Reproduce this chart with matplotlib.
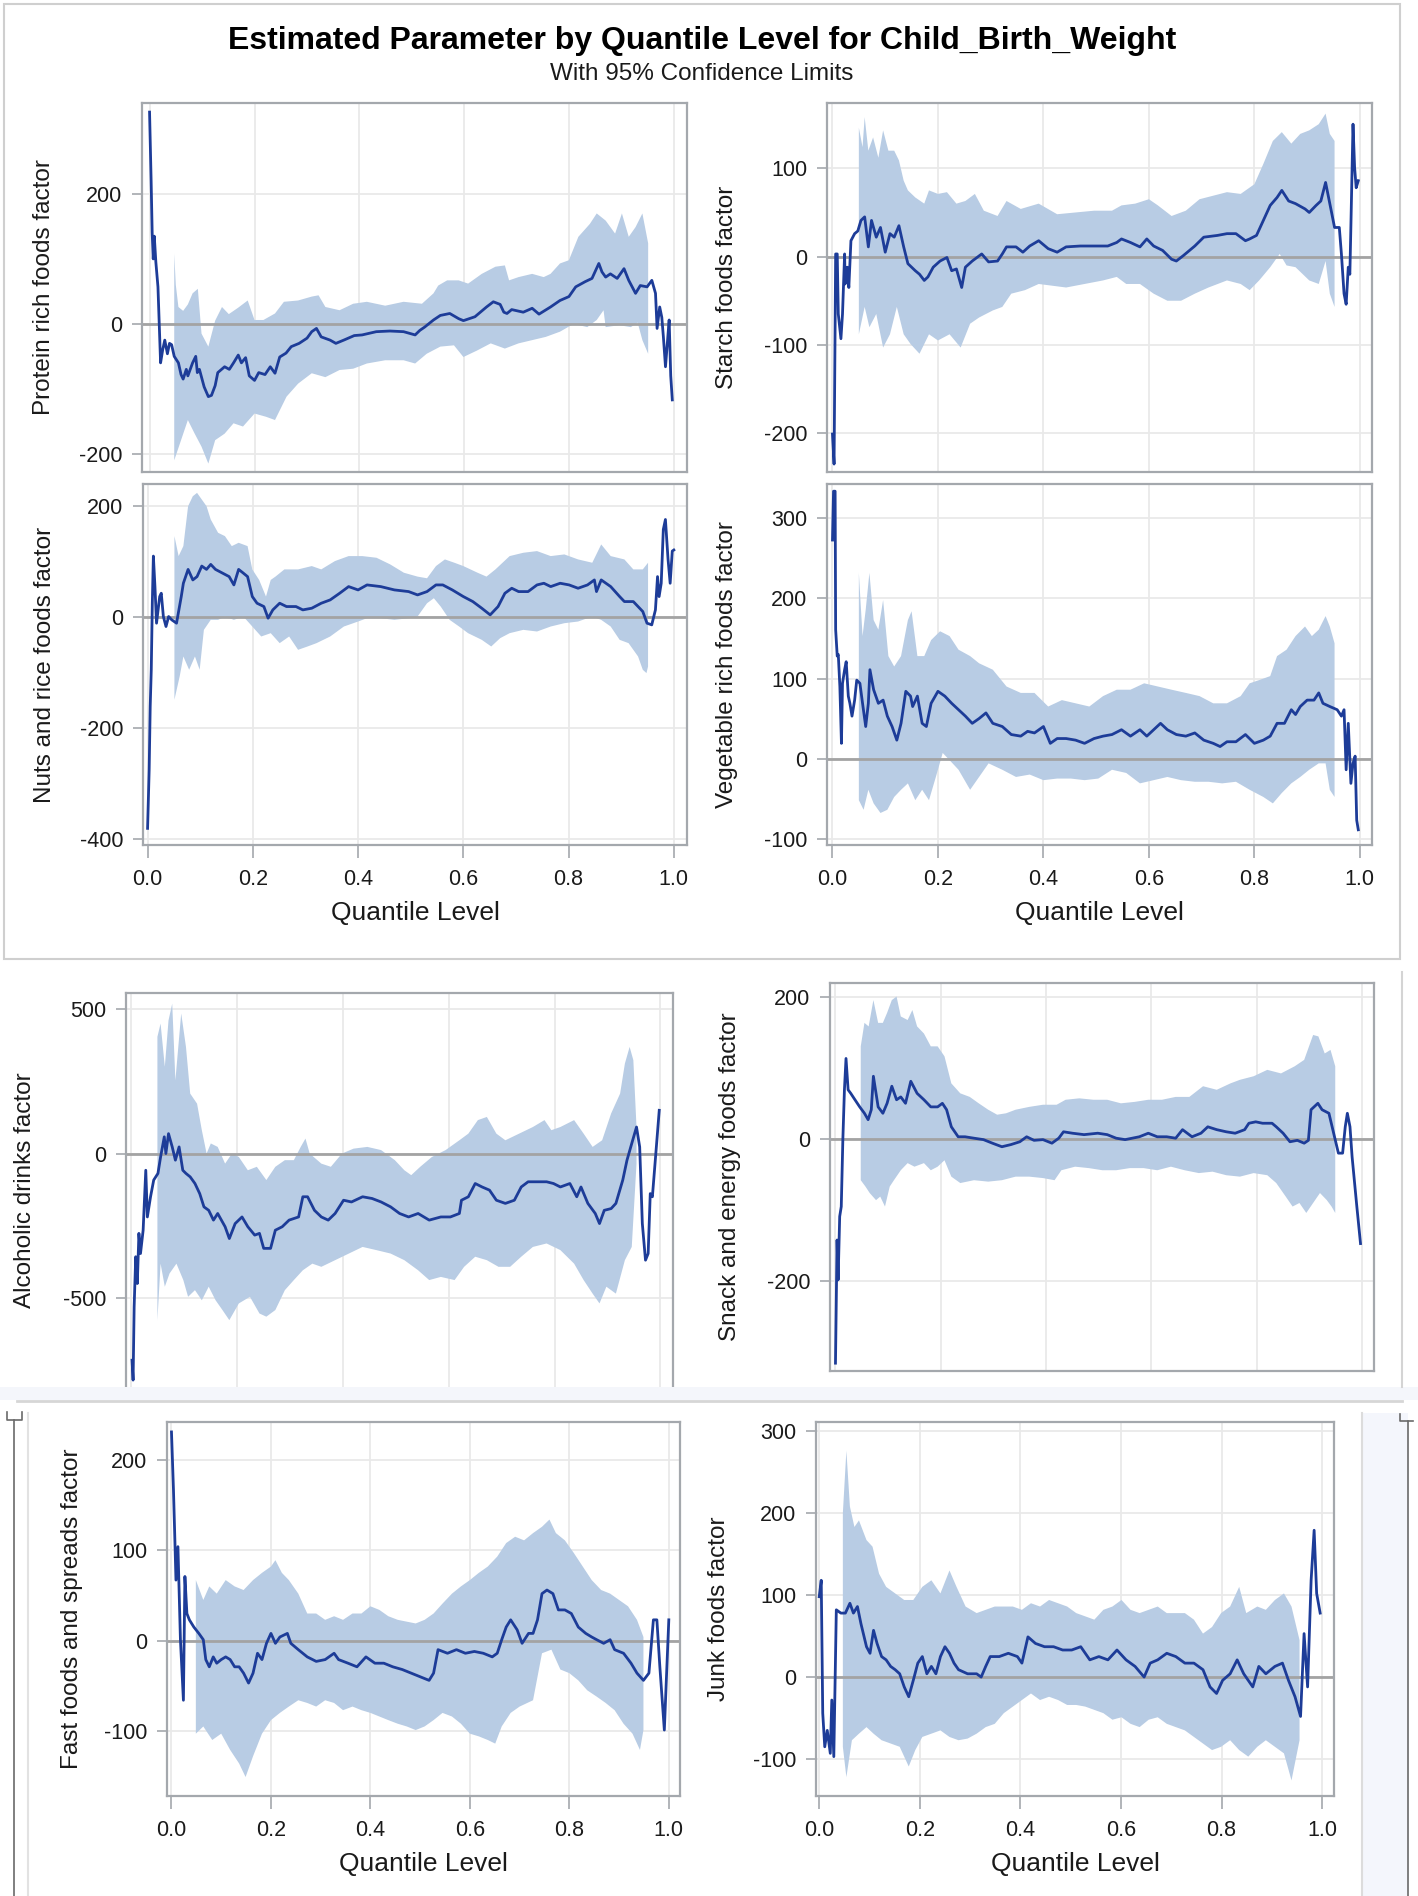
"""Quantile regression process plots for Child_Birth_Weight (three stacked screenshots)."""

import matplotlib
matplotlib.use("Agg")
import matplotlib.pyplot as plt
from matplotlib.lines import Line2D
from matplotlib.patches import Rectangle

plt.rcParams["font.family"] = ["Liberation Sans", "DejaVu Sans"]
plt.rcParams["axes.unicode_minus"] = False

# ---------------- data: (quantile level, value) ----------------
PROTEIN_EST = [(0.000, 326), (0.003, 220), (0.005, 140), (0.007, 100), (0.009, 135), (0.012, 95), (0.016, 57),
               (0.021, -60), (0.025, -40), (0.029, -25), (0.034, -46), (0.038, -30), (0.042, -32), (0.047, -50),
               (0.055, -60), (0.060, -78), (0.064, -85), (0.070, -70), (0.073, -80), (0.082, -60), (0.088, -50),
               (0.091, -75), (0.095, -70), (0.104, -97), (0.112, -112), (0.118, -110), (0.125, -95), (0.130, -75),
               (0.143, -66), (0.152, -70), (0.160, -60), (0.169, -48), (0.175, -60), (0.183, -52), (0.190, -80),
               (0.200, -87), (0.208, -75), (0.220, -78), (0.230, -66), (0.239, -76), (0.248, -51), (0.260, -45),
               (0.270, -35), (0.285, -30), (0.300, -22), (0.309, -12), (0.318, -7), (0.327, -20), (0.344, -25),
               (0.355, -30), (0.370, -25), (0.390, -18), (0.405, -17), (0.432, -12), (0.458, -11), (0.484, -12),
               (0.506, -17), (0.515, -10), (0.524, -5), (0.541, 6), (0.554, 13), (0.572, 16), (0.589, 8),
               (0.598, 5), (0.620, 11), (0.642, 26), (0.655, 34), (0.668, 30), (0.675, 18), (0.681, 16),
               (0.690, 22), (0.712, 18), (0.729, 24), (0.742, 15), (0.764, 26), (0.782, 36), (0.799, 42),
               (0.812, 57), (0.830, 65), (0.843, 70), (0.856, 93), (0.862, 80), (0.869, 72), (0.878, 77),
               (0.891, 70), (0.904, 85), (0.913, 67), (0.926, 47), (0.935, 59), (0.948, 57), (0.957, 67),
               (0.964, 47), (0.967, -7), (0.972, 26), (0.976, 10), (0.979, -20), (0.983, -66), (0.987, -25),
               (0.990, 6), (0.993, -80), (0.996, -117)]
PROTEIN_UP = [(0.047, 108), (0.050, 60), (0.055, 26), (0.064, 20), (0.073, 30), (0.082, 47), (0.092, 54),
              (0.099, -15), (0.112, -35), (0.125, 5), (0.138, 26), (0.151, 15), (0.169, 25), (0.187, 36),
              (0.200, 6), (0.217, 6), (0.239, 16), (0.256, 34), (0.283, 36), (0.309, 42), (0.322, 44),
              (0.335, 26), (0.362, 21), (0.388, 31), (0.414, 34), (0.449, 28), (0.484, 34), (0.519, 31),
              (0.541, 47), (0.550, 59), (0.567, 67), (0.589, 67), (0.607, 62), (0.633, 77), (0.659, 88),
              (0.677, 90), (0.685, 67), (0.703, 72), (0.729, 77), (0.751, 72), (0.764, 77), (0.782, 93),
              (0.799, 98), (0.817, 134), (0.839, 154), (0.852, 170), (0.869, 159), (0.887, 139), (0.900, 170),
              (0.913, 134), (0.926, 149), (0.939, 170), (0.950, 124)]
PROTEIN_LO = [(0.047, -210), (0.060, -179), (0.073, -148), (0.086, -169), (0.099, -189), (0.112, -215),
              (0.125, -179), (0.143, -169), (0.160, -153), (0.178, -158), (0.200, -138), (0.222, -143),
              (0.239, -148), (0.261, -112), (0.283, -92), (0.309, -76), (0.335, -82), (0.362, -71), (0.388, -69),
              (0.414, -61), (0.449, -56), (0.484, -56), (0.506, -61), (0.528, -46), (0.554, -35), (0.580, -33),
              (0.598, -51), (0.624, -41), (0.650, -30), (0.677, -38), (0.703, -30), (0.729, -25), (0.755, -20),
              (0.782, -12), (0.808, 0), (0.834, -5), (0.852, 6), (0.865, 21), (0.869, -5), (0.895, -2),
              (0.917, -5), (0.930, 2), (0.939, -25), (0.950, -46)]

STARCH_EST = [(0.000, -201), (0.003, -235), (0.006, 3), (0.009, 3), (0.011, -65), (0.016, -93), (0.019, -65),
              (0.023, 3), (0.024, -31), (0.028, -12), (0.031, -35), (0.035, 18), (0.042, 26), (0.048, 29),
              (0.054, 41), (0.061, 45), (0.068, 11), (0.074, 41), (0.083, 22), (0.091, 33), (0.100, 5),
              (0.109, 26), (0.117, 22), (0.126, 35), (0.135, 11), (0.143, -8), (0.157, -16), (0.165, -20),
              (0.174, -27), (0.181, -23), (0.191, -12), (0.204, -5), (0.217, -1), (0.226, -16), (0.235, -14),
              (0.245, -35), (0.252, -12), (0.265, -5), (0.283, 3), (0.296, -6), (0.313, -5), (0.322, 3),
              (0.330, 11), (0.348, 11), (0.361, 5), (0.374, 12), (0.391, 18), (0.409, 9), (0.426, 5),
              (0.443, 11), (0.470, 12), (0.496, 12), (0.522, 12), (0.539, 16), (0.548, 20), (0.565, 16),
              (0.583, 11), (0.596, 20), (0.609, 12), (0.626, 7), (0.643, -3), (0.652, -5), (0.665, 1),
              (0.687, 12), (0.704, 22), (0.730, 24), (0.748, 26), (0.765, 26), (0.783, 18), (0.791, 20),
              (0.804, 24), (0.817, 41), (0.830, 58), (0.843, 67), (0.852, 75), (0.865, 63), (0.878, 60),
              (0.896, 54), (0.904, 50), (0.917, 58), (0.926, 63), (0.935, 84), (0.943, 60), (0.952, 33),
              (0.961, 33), (0.965, 3), (0.970, -42), (0.974, -54), (0.978, -12), (0.981, -20), (0.983, 35),
              (0.987, 150), (0.990, 101), (0.993, 78), (0.997, 86)]
STARCH_UP = [(0.050, 146), (0.057, 124), (0.061, 158), (0.068, 120), (0.077, 135), (0.087, 112), (0.096, 143),
             (0.106, 120), (0.117, 120), (0.126, 109), (0.135, 86), (0.143, 75), (0.157, 67), (0.174, 60),
             (0.183, 75), (0.200, 71), (0.217, 73), (0.235, 60), (0.252, 63), (0.270, 71), (0.287, 52),
             (0.313, 46), (0.330, 63), (0.357, 54), (0.391, 60), (0.426, 48), (0.461, 50), (0.496, 52),
             (0.530, 52), (0.548, 58), (0.574, 60), (0.600, 65), (0.617, 58), (0.643, 46), (0.670, 52),
             (0.696, 65), (0.722, 69), (0.748, 73), (0.774, 71), (0.800, 82), (0.817, 105), (0.835, 131),
             (0.852, 141), (0.870, 128), (0.887, 139), (0.904, 143), (0.922, 150), (0.935, 162), (0.943, 139),
             (0.952, 131)]
STARCH_LO = [(0.050, -88), (0.061, -57), (0.070, -80), (0.083, -65), (0.096, -103), (0.109, -88), (0.122, -57),
             (0.135, -88), (0.148, -99), (0.165, -110), (0.183, -88), (0.200, -95), (0.222, -88), (0.243, -103),
             (0.261, -76), (0.278, -69), (0.304, -61), (0.322, -57), (0.339, -42), (0.365, -38), (0.391, -31),
             (0.417, -33), (0.443, -35), (0.478, -31), (0.513, -27), (0.539, -23), (0.557, -31), (0.583, -31),
             (0.609, -42), (0.635, -50), (0.661, -50), (0.687, -42), (0.713, -35), (0.748, -27), (0.774, -31),
             (0.791, -38), (0.809, -27), (0.830, -12), (0.848, 3), (0.861, -10), (0.878, -12), (0.904, -27),
             (0.922, -31), (0.935, -5), (0.943, -42), (0.952, -57)]

NUTS_EST = [(0.000, -381), (0.003, -276), (0.005, -161), (0.007, -95), (0.009, 25), (0.011, 110), (0.014, 55),
            (0.017, -11), (0.023, 37), (0.026, 43), (0.030, 1), (0.035, -17), (0.040, 1), (0.046, -5),
            (0.055, -11), (0.064, 37), (0.068, 61), (0.077, 86), (0.086, 67), (0.094, 73), (0.103, 92),
            (0.112, 86), (0.120, 95), (0.129, 86), (0.147, 77), (0.155, 73), (0.164, 58), (0.173, 86),
            (0.181, 80), (0.190, 73), (0.199, 37), (0.208, 25), (0.221, 19), (0.229, -2), (0.238, 13),
            (0.251, 25), (0.264, 19), (0.282, 19), (0.295, 13), (0.312, 16), (0.330, 25), (0.347, 31),
            (0.365, 43), (0.382, 55), (0.400, 49), (0.417, 58), (0.443, 55), (0.469, 49), (0.496, 46),
            (0.513, 40), (0.531, 46), (0.548, 58), (0.561, 58), (0.579, 49), (0.600, 37), (0.618, 28),
            (0.635, 16), (0.651, 4), (0.666, 19), (0.679, 43), (0.692, 52), (0.705, 46), (0.723, 46),
            (0.740, 58), (0.753, 61), (0.766, 55), (0.784, 61), (0.801, 58), (0.818, 52), (0.836, 58),
            (0.849, 67), (0.853, 46), (0.862, 67), (0.880, 55), (0.897, 37), (0.906, 28), (0.923, 28),
            (0.941, 10), (0.949, -11), (0.958, -14), (0.965, 13), (0.969, 73), (0.972, 37), (0.976, 61),
            (0.980, 158), (0.984, 176), (0.989, 104), (0.993, 61), (0.997, 119), (1.000, 121)]
NUTS_UP = [(0.051, 146), (0.059, 110), (0.068, 128), (0.077, 200), (0.086, 218), (0.094, 224), (0.103, 212),
           (0.112, 200), (0.120, 176), (0.134, 152), (0.147, 146), (0.160, 128), (0.173, 134), (0.190, 128),
           (0.199, 86), (0.212, 67), (0.225, 37), (0.234, 67), (0.243, 73), (0.260, 86), (0.286, 86),
           (0.312, 92), (0.330, 86), (0.356, 101), (0.382, 110), (0.408, 110), (0.435, 107), (0.461, 95),
           (0.487, 80), (0.513, 73), (0.531, 70), (0.548, 92), (0.565, 104), (0.583, 98), (0.600, 92),
           (0.627, 80), (0.644, 73), (0.661, 86), (0.688, 110), (0.714, 116), (0.740, 119), (0.766, 110),
           (0.792, 113), (0.818, 104), (0.845, 98), (0.862, 131), (0.880, 110), (0.906, 104), (0.923, 86),
           (0.941, 86), (0.951, 98)]
NUTS_LO = [(0.051, -149), (0.061, -107), (0.068, -71), (0.079, -95), (0.090, -71), (0.099, -95), (0.107, -23),
           (0.120, -5), (0.134, -5), (0.147, 1), (0.164, -5), (0.182, 1), (0.199, -17), (0.216, -35),
           (0.234, -29), (0.251, -47), (0.269, -35), (0.286, -59), (0.304, -53), (0.321, -47), (0.347, -35),
           (0.373, -17), (0.400, -8), (0.417, -2), (0.443, -2), (0.469, -5), (0.496, -2), (0.513, 1),
           (0.531, 25), (0.544, 34), (0.557, 19), (0.574, -5), (0.592, -17), (0.609, -29), (0.635, -41),
           (0.653, -53), (0.670, -38), (0.688, -29), (0.714, -23), (0.740, -26), (0.766, -17), (0.792, -11),
           (0.818, -8), (0.845, 1), (0.862, -5), (0.880, -17), (0.897, -41), (0.914, -47), (0.932, -71),
           (0.941, -95), (0.948, -101), (0.951, -89)]

VEG_EST = [(0.000, 273), (0.002, 334), (0.005, 334), (0.006, 161), (0.009, 128), (0.011, 130), (0.014, 90),
           (0.017, 19), (0.019, 94), (0.023, 111), (0.026, 121), (0.030, 78), (0.033, 69), (0.037, 53),
           (0.042, 73), (0.046, 98), (0.052, 94), (0.057, 69), (0.063, 40), (0.068, 69), (0.071, 111),
           (0.078, 86), (0.087, 69), (0.096, 73), (0.104, 53), (0.113, 40), (0.122, 23), (0.130, 44),
           (0.139, 84), (0.148, 78), (0.152, 65), (0.161, 78), (0.170, 44), (0.178, 40), (0.187, 69),
           (0.200, 84), (0.213, 78), (0.226, 69), (0.239, 61), (0.252, 53), (0.265, 44), (0.278, 50),
           (0.291, 57), (0.304, 44), (0.322, 40), (0.339, 30), (0.357, 28), (0.370, 34), (0.383, 32),
           (0.400, 40), (0.413, 19), (0.426, 25), (0.443, 25), (0.461, 23), (0.478, 19), (0.496, 25),
           (0.513, 28), (0.530, 30), (0.548, 36), (0.565, 28), (0.583, 36), (0.596, 28), (0.609, 36),
           (0.622, 44), (0.635, 36), (0.652, 30), (0.670, 28), (0.687, 32), (0.704, 23), (0.722, 19),
           (0.735, 15), (0.748, 21), (0.765, 21), (0.783, 30), (0.800, 19), (0.817, 23), (0.830, 28),
           (0.843, 44), (0.857, 44), (0.870, 61), (0.878, 55), (0.887, 65), (0.900, 73), (0.913, 73),
           (0.922, 82), (0.930, 69), (0.943, 65), (0.957, 61), (0.965, 53), (0.970, 61), (0.974, -14),
           (0.978, 44), (0.983, -31), (0.987, -6), (0.991, 3), (0.994, -77), (0.997, -89)]
VEG_UP = [(0.050, 232), (0.057, 153), (0.063, 186), (0.070, 232), (0.078, 173), (0.087, 161), (0.096, 198),
          (0.106, 128), (0.117, 115), (0.130, 128), (0.143, 173), (0.150, 184), (0.161, 128), (0.174, 128),
          (0.187, 148), (0.204, 159), (0.222, 153), (0.239, 136), (0.261, 128), (0.278, 119), (0.304, 111),
          (0.330, 90), (0.357, 82), (0.383, 82), (0.409, 65), (0.435, 73), (0.461, 69), (0.487, 65),
          (0.513, 78), (0.539, 86), (0.565, 86), (0.591, 94), (0.617, 90), (0.643, 86), (0.670, 82),
          (0.696, 78), (0.722, 69), (0.748, 69), (0.774, 78), (0.791, 94), (0.809, 98), (0.830, 103),
          (0.843, 128), (0.861, 136), (0.878, 153), (0.896, 165), (0.909, 153), (0.922, 161), (0.935, 178),
          (0.943, 165), (0.952, 144)]
VEG_LO = [(0.050, -52), (0.059, -64), (0.068, -39), (0.078, -56), (0.091, -68), (0.104, -64), (0.117, -48),
          (0.130, -39), (0.143, -31), (0.157, -52), (0.170, -39), (0.183, -52), (0.196, -23), (0.209, 7),
          (0.222, -2), (0.239, -14), (0.261, -39), (0.278, -23), (0.296, -6), (0.322, -14), (0.348, -23),
          (0.374, -20), (0.400, -27), (0.426, -25), (0.452, -25), (0.478, -27), (0.504, -25), (0.530, -14),
          (0.557, -18), (0.583, -31), (0.609, -27), (0.635, -23), (0.661, -27), (0.687, -29), (0.713, -29),
          (0.739, -31), (0.765, -29), (0.791, -39), (0.817, -48), (0.835, -56), (0.852, -43), (0.870, -31),
          (0.887, -23), (0.904, -14), (0.922, -6), (0.935, -6), (0.943, -39), (0.952, -48)]

ALCOHOL_EST = [(0.001, -717), (0.003, -786), (0.005, -532), (0.008, -358), (0.011, -451), (0.014, -277),
               (0.017, -347), (0.022, -266), (0.027, -58), (0.030, -220), (0.036, -150), (0.042, -92),
               (0.050, -69), (0.055, -12), (0.062, 58), (0.065, 0), (0.070, 69), (0.077, 23), (0.083, -23),
               (0.090, 23), (0.097, -58), (0.103, -69), (0.111, -81), (0.120, -104), (0.129, -139),
               (0.137, -185), (0.146, -197), (0.155, -231), (0.163, -208), (0.177, -254), (0.185, -295),
               (0.196, -243), (0.209, -220), (0.220, -254), (0.233, -283), (0.242, -277), (0.250, -329),
               (0.263, -329), (0.272, -266), (0.285, -254), (0.298, -231), (0.316, -220), (0.324, -150),
               (0.333, -150), (0.346, -197), (0.359, -220), (0.372, -231), (0.385, -208), (0.401, -162),
               (0.416, -168), (0.437, -150), (0.455, -156), (0.472, -168), (0.490, -185), (0.507, -208),
               (0.524, -220), (0.542, -208), (0.563, -231), (0.585, -220), (0.603, -220), (0.620, -208),
               (0.624, -162), (0.637, -150), (0.650, -104), (0.663, -116), (0.677, -127), (0.690, -162),
               (0.707, -173), (0.724, -162), (0.737, -116), (0.750, -98), (0.768, -98), (0.785, -98),
               (0.798, -104), (0.811, -116), (0.829, -104), (0.842, -150), (0.850, -116), (0.863, -173),
               (0.877, -208), (0.885, -243), (0.894, -197), (0.907, -191), (0.916, -173), (0.929, -92),
               (0.937, -23), (0.946, 35), (0.955, 92), (0.961, 23), (0.966, -243), (0.972, -370),
               (0.977, -347), (0.981, -139), (0.985, -150), (0.990, -35), (0.998, 150)]
ALCOHOL_UP = [(0.049, 405), (0.055, 451), (0.063, 301), (0.070, 462), (0.077, 520), (0.083, 254), (0.094, 486),
              (0.103, 370), (0.111, 208), (0.124, 173), (0.133, 81), (0.142, 0), (0.150, 35), (0.163, 23),
              (0.177, -35), (0.190, 0), (0.203, -12), (0.220, -58), (0.237, -46), (0.255, -92), (0.272, -46),
              (0.290, -23), (0.307, -23), (0.320, 23), (0.329, 52), (0.337, 0), (0.359, -35), (0.377, -46),
              (0.398, 0), (0.420, 17), (0.446, 23), (0.472, 12), (0.498, -23), (0.516, -58), (0.529, -75),
              (0.546, -46), (0.568, -12), (0.594, 12), (0.620, 46), (0.637, 69), (0.655, 116), (0.672, 127),
              (0.690, 69), (0.707, 46), (0.733, 69), (0.759, 92), (0.781, 116), (0.794, 81), (0.811, 92),
              (0.837, 116), (0.855, 69), (0.872, 23), (0.890, 46), (0.907, 139), (0.924, 208), (0.933, 312),
              (0.942, 370), (0.949, 324), (0.955, 92)]
ALCOHOL_LO = [(0.049, -578), (0.055, -382), (0.063, -462), (0.072, -416), (0.085, -382), (0.098, -439),
              (0.107, -497), (0.120, -474), (0.133, -509), (0.146, -462), (0.159, -509), (0.172, -543),
              (0.185, -578), (0.203, -520), (0.224, -497), (0.242, -555), (0.255, -566), (0.272, -543),
              (0.290, -474), (0.307, -439), (0.324, -405), (0.342, -382), (0.359, -393), (0.385, -370),
              (0.411, -347), (0.437, -324), (0.463, -335), (0.490, -347), (0.516, -370), (0.542, -405),
              (0.563, -439), (0.585, -428), (0.611, -439), (0.629, -393), (0.650, -358), (0.672, -370),
              (0.694, -393), (0.716, -393), (0.737, -358), (0.759, -324), (0.785, -312), (0.811, -335),
              (0.837, -382), (0.855, -439), (0.872, -486), (0.885, -520), (0.898, -462), (0.916, -486),
              (0.933, -370), (0.946, -324), (0.955, -35)]

SNACK_EST = [(0.000, -315), (0.003, -142), (0.005, -198), (0.008, -109), (0.011, -95), (0.014, -1), (0.017, 69),
             (0.020, 113), (0.024, 69), (0.029, 64), (0.037, 55), (0.046, 45), (0.055, 36), (0.062, 27),
             (0.068, 41), (0.072, 88), (0.081, 45), (0.090, 36), (0.098, 50), (0.107, 74), (0.116, 55),
             (0.124, 59), (0.133, 50), (0.143, 81), (0.155, 64), (0.168, 55), (0.181, 45), (0.194, 45),
             (0.203, 50), (0.211, 41), (0.220, 17), (0.233, 3), (0.246, 3), (0.263, 1), (0.281, -1),
             (0.298, -6), (0.316, -11), (0.333, -8), (0.350, -4), (0.363, 3), (0.377, -2), (0.394, -1),
             (0.411, -6), (0.424, 1), (0.433, 10), (0.450, 8), (0.472, 6), (0.498, 8), (0.516, 6), (0.533, 1),
             (0.550, -1), (0.577, 3), (0.594, 8), (0.611, 3), (0.629, 3), (0.646, 1), (0.659, 13), (0.677, 3),
             (0.694, 8), (0.707, 17), (0.724, 13), (0.742, 10), (0.759, 8), (0.777, 13), (0.785, 22),
             (0.798, 24), (0.811, 22), (0.829, 22), (0.837, 17), (0.850, 8), (0.863, -4), (0.877, -2),
             (0.890, -6), (0.898, -2), (0.903, 41), (0.916, 50), (0.924, 41), (0.937, 36), (0.946, 8),
             (0.955, -20), (0.963, -20), (0.968, 17), (0.972, 36), (0.977, 17), (0.981, -25), (0.990, -95),
             (0.997, -147)]
SNACK_UP = [(0.048, 130), (0.055, 163), (0.063, 158), (0.072, 195), (0.081, 163), (0.090, 163), (0.098, 177),
            (0.107, 195), (0.116, 200), (0.124, 172), (0.137, 167), (0.146, 181), (0.155, 158), (0.168, 148),
            (0.181, 130), (0.194, 130), (0.207, 116), (0.220, 78), (0.237, 64), (0.255, 59), (0.272, 50),
            (0.290, 41), (0.307, 34), (0.324, 36), (0.342, 41), (0.368, 45), (0.394, 48), (0.420, 48),
            (0.437, 55), (0.463, 57), (0.490, 55), (0.516, 55), (0.542, 50), (0.568, 52), (0.594, 55),
            (0.620, 55), (0.646, 59), (0.672, 59), (0.698, 74), (0.724, 69), (0.750, 78), (0.768, 83),
            (0.794, 88), (0.820, 97), (0.846, 92), (0.872, 102), (0.890, 111), (0.907, 146), (0.917, 144),
            (0.929, 120), (0.940, 125), (0.949, 102)]
SNACK_LO = [(0.048, -58), (0.057, -67), (0.065, -76), (0.077, -86), (0.085, -81), (0.094, -95), (0.103, -67),
            (0.111, -58), (0.124, -44), (0.137, -34), (0.150, -39), (0.168, -34), (0.181, -44), (0.194, -39),
            (0.207, -30), (0.220, -53), (0.237, -62), (0.263, -58), (0.290, -60), (0.316, -58), (0.342, -53),
            (0.368, -53), (0.394, -55), (0.416, -58), (0.429, -44), (0.455, -39), (0.481, -41), (0.507, -44),
            (0.533, -44), (0.559, -41), (0.585, -41), (0.611, -44), (0.637, -39), (0.663, -44), (0.690, -48),
            (0.716, -46), (0.742, -51), (0.768, -53), (0.794, -48), (0.820, -51), (0.837, -62), (0.855, -81),
            (0.868, -95), (0.881, -90), (0.894, -104), (0.907, -90), (0.920, -76), (0.933, -86), (0.942, -95),
            (0.949, -104)]

FAST_EST = [(0.000, 231), (0.004, 167), (0.007, 108), (0.009, 67), (0.013, 104), (0.018, 1), (0.024, -66),
            (0.027, 71), (0.031, 30), (0.036, 23), (0.045, 15), (0.055, 8), (0.064, 1), (0.069, -21),
            (0.076, -29), (0.084, -18), (0.091, -25), (0.100, -21), (0.109, -18), (0.118, -21), (0.127, -29),
            (0.136, -29), (0.145, -36), (0.155, -47), (0.164, -36), (0.173, -14), (0.182, -21), (0.191, -3),
            (0.200, 8), (0.209, -3), (0.218, 4), (0.233, 8), (0.240, -3), (0.255, -10), (0.273, -18),
            (0.291, -23), (0.309, -21), (0.327, -14), (0.336, -21), (0.355, -25), (0.373, -29), (0.391, -18),
            (0.409, -25), (0.427, -25), (0.445, -29), (0.464, -32), (0.482, -36), (0.500, -40), (0.518, -44),
            (0.527, -36), (0.536, -10), (0.555, -14), (0.573, -10), (0.591, -14), (0.609, -12), (0.627, -14),
            (0.645, -18), (0.655, -14), (0.664, 1), (0.673, 15), (0.682, 23), (0.695, 12), (0.705, -3),
            (0.718, 8), (0.727, 8), (0.736, 23), (0.745, 52), (0.755, 56), (0.767, 52), (0.778, 34),
            (0.791, 34), (0.804, 30), (0.818, 15), (0.833, 8), (0.845, 4), (0.855, 1), (0.869, -3), (0.882, 1),
            (0.891, -10), (0.909, -14), (0.924, -25), (0.936, -36), (0.949, -44), (0.960, -36), (0.969, 23),
            (0.976, 23), (0.982, -29), (0.991, -99), (0.995, -44), (1.000, 23)]
FAST_UP = [(0.049, 67), (0.064, 45), (0.076, 60), (0.091, 52), (0.109, 67), (0.127, 60), (0.145, 56), (0.164, 67),
           (0.182, 75), (0.200, 82), (0.209, 89), (0.222, 75), (0.236, 67), (0.255, 52), (0.273, 30), (0.291, 30),
           (0.309, 23), (0.327, 27), (0.345, 23), (0.364, 30), (0.382, 30), (0.400, 38), (0.418, 34), (0.436, 27),
           (0.455, 23), (0.473, 21), (0.491, 19), (0.509, 23), (0.527, 30), (0.545, 41), (0.564, 52), (0.582, 60),
           (0.600, 67), (0.618, 75), (0.636, 82), (0.655, 93), (0.673, 108), (0.691, 115), (0.709, 111),
           (0.727, 119), (0.745, 126), (0.760, 134), (0.773, 119), (0.791, 111), (0.809, 97), (0.827, 82),
           (0.845, 67), (0.864, 56), (0.882, 52), (0.900, 45), (0.918, 38), (0.936, 23), (0.949, 4)]
FAST_LO = [(0.049, -103), (0.064, -95), (0.082, -110), (0.100, -103), (0.118, -121), (0.136, -136), (0.149, -151),
           (0.164, -128), (0.182, -103), (0.200, -88), (0.218, -80), (0.236, -73), (0.255, -66), (0.273, -69),
           (0.291, -73), (0.309, -66), (0.327, -69), (0.345, -77), (0.364, -73), (0.382, -77), (0.400, -80),
           (0.418, -84), (0.436, -88), (0.455, -92), (0.473, -95), (0.491, -99), (0.509, -95), (0.527, -88),
           (0.545, -80), (0.564, -84), (0.582, -92), (0.600, -103), (0.618, -106), (0.636, -110), (0.651, -114),
           (0.664, -95), (0.682, -80), (0.700, -73), (0.727, -66), (0.745, -14), (0.764, -10), (0.782, -32),
           (0.800, -36), (0.818, -44), (0.836, -55), (0.855, -62), (0.873, -69), (0.891, -77), (0.909, -92),
           (0.927, -103), (0.942, -121), (0.949, -99)]

JUNK_EST = [(0.000, 98), (0.004, 118), (0.007, -44), (0.011, -85), (0.016, -65), (0.022, -93), (0.025, -28),
            (0.029, -97), (0.034, 82), (0.043, 78), (0.052, 78), (0.061, 90), (0.068, 78), (0.076, 86),
            (0.083, 65), (0.094, 37), (0.101, 29), (0.108, 57), (0.115, 41), (0.124, 25), (0.133, 21),
            (0.142, 13), (0.151, 9), (0.160, 4), (0.169, -12), (0.178, -24), (0.187, -4), (0.196, 17),
            (0.205, 25), (0.214, 4), (0.223, 13), (0.232, 4), (0.241, 25), (0.250, 37), (0.259, 29),
            (0.268, 17), (0.277, 9), (0.295, 4), (0.313, 4), (0.322, 0), (0.331, 13), (0.340, 25), (0.358, 25),
            (0.376, 29), (0.394, 25), (0.403, 17), (0.415, 49), (0.430, 41), (0.448, 37), (0.466, 37),
            (0.484, 33), (0.502, 33), (0.520, 37), (0.538, 21), (0.556, 25), (0.574, 21), (0.592, 33),
            (0.610, 21), (0.628, 13), (0.646, 0), (0.658, 17), (0.673, 21), (0.691, 29), (0.709, 25),
            (0.727, 17), (0.745, 17), (0.763, 9), (0.777, -12), (0.790, -20), (0.802, -4), (0.817, 4),
            (0.831, 21), (0.844, 4), (0.862, -12), (0.874, 13), (0.888, 4), (0.906, 13), (0.921, 17),
            (0.933, -4), (0.946, -24), (0.957, -48), (0.964, 53), (0.971, -12), (0.978, 118), (0.984, 179),
            (0.989, 102), (0.996, 78)]
JUNK_UP = [(0.047, 200), (0.054, 276), (0.061, 208), (0.070, 183), (0.079, 191), (0.094, 167), (0.106, 159),
           (0.119, 126), (0.133, 110), (0.151, 102), (0.169, 94), (0.187, 94), (0.205, 110), (0.223, 118),
           (0.241, 102), (0.259, 130), (0.273, 110), (0.291, 86), (0.313, 78), (0.331, 82), (0.349, 86),
           (0.367, 86), (0.385, 86), (0.403, 82), (0.421, 90), (0.439, 86), (0.457, 94), (0.475, 90),
           (0.493, 86), (0.511, 78), (0.529, 74), (0.547, 70), (0.565, 82), (0.583, 86), (0.601, 94),
           (0.619, 82), (0.637, 78), (0.655, 82), (0.673, 86), (0.691, 78), (0.709, 78), (0.727, 78),
           (0.745, 70), (0.763, 53), (0.781, 61), (0.799, 78), (0.817, 86), (0.835, 110), (0.849, 78),
           (0.871, 86), (0.888, 82), (0.906, 94), (0.924, 102), (0.939, 86), (0.955, 45)]
JUNK_LO = [(0.047, -85), (0.054, -122), (0.065, -77), (0.079, -69), (0.094, -61), (0.108, -69), (0.124, -77),
           (0.142, -81), (0.160, -85), (0.178, -109), (0.191, -89), (0.205, -73), (0.223, -69), (0.241, -65),
           (0.259, -73), (0.277, -77), (0.295, -75), (0.313, -69), (0.331, -61), (0.349, -57), (0.367, -44),
           (0.385, -36), (0.403, -28), (0.421, -20), (0.439, -28), (0.457, -24), (0.475, -28), (0.493, -34),
           (0.511, -34), (0.529, -36), (0.547, -40), (0.565, -44), (0.583, -52), (0.601, -49), (0.619, -57),
           (0.637, -61), (0.655, -52), (0.673, -49), (0.691, -57), (0.709, -61), (0.727, -65), (0.745, -73),
           (0.763, -81), (0.781, -89), (0.799, -85), (0.817, -77), (0.835, -89), (0.853, -97), (0.871, -85),
           (0.888, -77), (0.906, -85), (0.924, -93), (0.939, -126), (0.955, -77)]

Y_LABELS = ["Protein rich foods factor", "Starch foods factor", "Nuts and rice foods factor",
            "Vegetable rich foods factor", "Alcoholic drinks factor", "Snack and energy foods factor",
            "Fast foods and spreads factor", "Junk foods factor"]
Y_TICKS = [[-200, 0, 200], [-200, -100, 0, 100], [-400, -200, 0, 200], [-100, 0, 100, 200, 300],
           [-500, 0, 500], [-200, 0, 200], [-100, 0, 100, 200], [-100, 0, 100, 200, 300]]
X_TICKS = [0.0, 0.2, 0.4, 0.6, 0.8, 1.0]

TITLE = "Estimated Parameter by Quantile Level for Child_Birth_Weight"
SUBTITLE = "With 95% Confidence Limits"

# ---------------- layout (pixels of the 1418 x 1896 canvas) ----------------
W, H = 1418, 1896
LINE_C = "#1d3c98"
BAND_C = "#b8cce4"
FRAME_C = "#a4a8ad"
TEXT_C = "#1a1a1a"


def fig_box(left, top, right, bottom):
    return [left / W, 1 - bottom / H, (right - left) / W, (bottom - top) / H]


def unzip(pairs):
    return [p[0] for p in pairs], [p[1] for p in pairs]


# est, upper, lower, box, xlim, ylim, bottom row?, label x offset
panels = [
    (PROTEIN_EST, PROTEIN_UP, PROTEIN_LO, (142, 103, 687, 472), (-0.0144, 1.024), (-228, 340), False, -0.180),
    (STARCH_EST, STARCH_UP, STARCH_LO, (827, 103, 1372, 472), (-0.0104, 1.023), (-244, 174), False, -0.183),
    (NUTS_EST, NUTS_UP, NUTS_LO, (143, 484, 687, 845), (-0.0087, 1.025), (-411, 240), True, -0.181),
    (VEG_EST, VEG_UP, VEG_LO, (827, 484, 1372, 845), (-0.0104, 1.023), (-108, 343), True, -0.183),
    (ALCOHOL_EST, ALCOHOL_UP, ALCOHOL_LO, (126, 993, 673, 1387), (-0.0104, 1.024), (-810, 557), None, -0.185),
    (SNACK_EST, SNACK_UP, SNACK_LO, (830, 983, 1374, 1371), (-0.0104, 1.0226), (-326, 219), False, -0.184),
    (FAST_EST, FAST_UP, FAST_LO, (167, 1422, 680, 1796), (-0.009, 1.0225), (-172, 242), True, -0.185),
    (JUNK_EST, JUNK_UP, JUNK_LO, (816, 1422, 1334, 1796), (-0.0064, 1.0235), (-145, 311), True, -0.187),
]

fig = plt.figure(figsize=(W / 100, H / 100), dpi=100)
fig.patch.set_facecolor("white")

# screenshot 1 outer frame
fig.add_artist(Rectangle((4 / W, 1 - 959 / H), 1396 / W, 955 / H, transform=fig.transFigure,
                         fill=False, edgecolor="#cfcfcf", lw=1.5))
fig.text(702 / W, 1 - 41 / H, TITLE, ha="center", va="center", fontsize=23, fontweight="bold", color="black")
fig.text(702 / W, 1 - 74 / H, SUBTITLE, ha="center", va="center", fontsize=17.5, color=TEXT_C)

for i, (est, up, lo, box, xlim, ylim, bottom_row, lab_x) in enumerate(panels):
    ax = fig.add_axes(fig_box(*box))
    ax.set_xlim(*xlim)
    ax.set_ylim(*ylim)
    ax.set_axisbelow(True)
    ax.grid(True, color="#e9e9e9", lw=1.3)

    xu, yu = unzip(up)
    xl, yl = unzip(lo)
    ax.fill(xu + xl[::-1], yu + yl[::-1], color=BAND_C, lw=0, zorder=1)
    ax.axhline(0, color="#a3a3a3", lw=2.0, zorder=2)
    xe, ye = unzip(est)
    ax.plot(xe, ye, color=LINE_C, lw=2.0, zorder=3)

    ax.set_yticks(Y_TICKS[i])
    ax.set_xticks(X_TICKS)
    for s in ax.spines.values():
        s.set_color(FRAME_C)
        s.set_linewidth(1.6)
    ax.tick_params(axis="y", length=7, width=1.2, color=FRAME_C, pad=7, labelsize=15.5, labelcolor=TEXT_C)
    if bottom_row:
        ax.set_xticklabels([f"{t:.1f}" for t in X_TICKS])
        ax.tick_params(axis="x", length=9, width=1.2, color=FRAME_C, pad=8, labelsize=15.5, labelcolor=TEXT_C)
        ax.set_xlabel("Quantile Level", fontsize=19, color=TEXT_C)
        ax.xaxis.label.set_va("center")
        ax.xaxis.set_label_coords(0.5, -68 / (box[3] - box[1]))
    else:
        ax.tick_params(axis="x", length=0, labelbottom=False)
    if bottom_row is None:
        ax.spines["bottom"].set_visible(False)

    ax.set_ylabel(Y_LABELS[i], fontsize=17.5, color=TEXT_C)
    ax.yaxis.label.set_va("center")
    ax.yaxis.set_label_coords(lab_x, 0.5)

# joins between the pasted screenshots
fig.add_artist(Line2D([1402 / W, 1402 / W], [1 - 972 / H, 1 - 1387 / H], transform=fig.transFigure,
                      color="#d4d4d4", lw=1.5))
fig.add_artist(Rectangle((0, 1 - 1400 / H), 1, 13 / H, transform=fig.transFigure,
                         facecolor="#f4f6fb", edgecolor="none"))
fig.add_artist(Line2D([17 / W, 1402 / W], [1 - 1401 / H, 1 - 1401 / H], transform=fig.transFigure,
                      color="#d6d6d6", lw=2))
fig.add_artist(Rectangle((1363 / W, 0), 45 / W, 1 - 1413 / H, transform=fig.transFigure,
                         facecolor="#f4f6fc", edgecolor="none"))
fig.add_artist(Line2D([1362 / W, 1362 / W], [0, 1 - 1413 / H], transform=fig.transFigure, color="#dcdcdc", lw=1.5))
fig.add_artist(Line2D([28 / W, 28 / W], [0, 1 - 1413 / H], transform=fig.transFigure, color="#e2e2e2", lw=1.5))
# bracket marks
fig.add_artist(Line2D([7 / W, 7 / W, 22 / W, 22 / W], [1 - 1412 / H, 1 - 1420 / H, 1 - 1420 / H, 1 - 1412 / H],
                      transform=fig.transFigure, color="#6a6a6a", lw=1.2))
fig.add_artist(Line2D([14 / W, 14 / W], [1 - 1420 / H, 0], transform=fig.transFigure, color="#6a6a6a", lw=1.2))
fig.add_artist(Line2D([1400 / W, 1400 / W, 1413 / W], [1 - 1414 / H, 1 - 1421 / H, 1 - 1421 / H],
                      transform=fig.transFigure, color="#6a6a6a", lw=1.2))
fig.add_artist(Line2D([1408 / W, 1408 / W], [1 - 1421 / H, 0], transform=fig.transFigure, color="#6a6a6a", lw=1.2))

fig.savefig("out.png", dpi=100)
